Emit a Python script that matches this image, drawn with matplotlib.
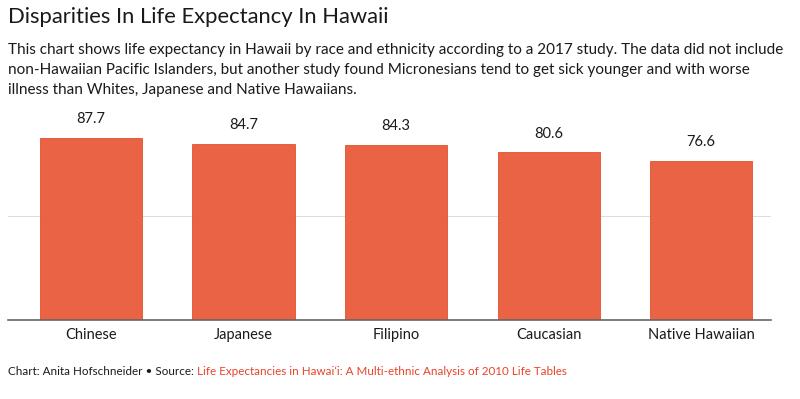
import matplotlib
matplotlib.use('Agg')
import matplotlib.pyplot as plt

#data
groups = ['Chinese', 'Japanese', 'Filipino', 'Caucasian', 'Native Hawaiian']
life_exp = [87.7, 84.7, 84.3, 80.6, 76.6]
grid_vals = [50, 100]

title = 'Disparities In Life Expectancy In Hawaii'
subtitle = ('This chart shows life expectancy in Hawaii by race and ethnicity according to a 2017 study. The data did not include\n'
            'non-Hawaiian Pacific Islanders, but another study found Micronesians tend to get sick younger and with worse\n'
            'illness than Whites, Japanese and Native Hawaiians.')
credit = 'Chart: Anita Hofschneider \u2022 Source: '
source = 'Life Expectancies in Hawai\u02bbi: A Multi-ethnic Analysis of 2010 Life Tables'

plt.rcParams['font.family'] = ['Lato', 'DejaVu Sans']

bar_color = '#EA6344'
text_color = '#1a1a1a'

fig = plt.figure(figsize=(8, 3.99), dpi=100)
ax = fig.add_axes([0.01, 0.198, 0.954, 0.521])

#bars
x = list(range(len(groups)))
ax.bar(x, life_exp, width=0.67, color=bar_color, edgecolor='#E5502F', linewidth=0.6, zorder=2)

#value labels
for xi, v in zip(x, life_exp):
    ax.annotate(f'{v}', (xi, v), xytext=(0, 8.5), textcoords='offset points',
                ha='center', va='bottom', fontsize=10.5, color=text_color)

#grid
for g in grid_vals[:-1]:
    ax.axhline(g, color='#dddddd', linewidth=0.8, zorder=1)

ax.set_xlim(-0.544, 4.459)
ax.set_ylim(0, 100)
ax.set_yticks([])
ax.set_xticks(x)
ax.set_xticklabels(groups, fontsize=10.5, color=text_color)
ax.tick_params(axis='x', length=0, pad=6)
for s in ['top', 'right', 'left']:
    ax.spines[s].set_visible(False)
ax.spines['bottom'].set_color('#666666')
ax.spines['bottom'].set_linewidth(1.2)
ax.spines['bottom'].set_zorder(3)

#texts
fig.text(0.01, 0.958, title, fontsize=15.8, color=text_color, va='center', ha='left')
fig.text(0.01, 0.893, subtitle, fontsize=11, color=text_color, va='top', ha='left', linespacing=1.56)
t1 = fig.text(0.01, 0.07, credit, fontsize=8.4, color=text_color, va='center', ha='left')
fig.canvas.draw()
bb = t1.get_window_extent()
fig.text(bb.x1 / fig.bbox.width, 0.07, source, fontsize=8.4, color='#E8432A', va='center', ha='left')

fig.savefig('out.png', dpi=100)
